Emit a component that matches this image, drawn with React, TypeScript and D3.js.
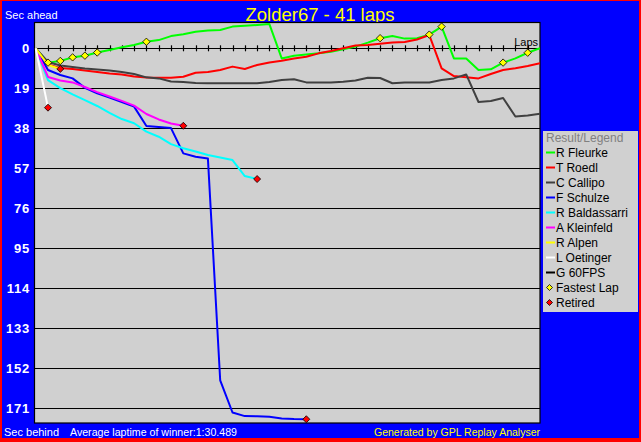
import React from "react";
import * as d3 from "d3";

const W = 641;
const H = 442;

const drivers = ["R Fleurke", "T Roedl", "C Callipo", "F Schulze", "R Baldassarri", "A Kleinfeld", "R Alpen", "L Oetinger", "G 60FPS"];
const colors = ["#00ff00", "#ff0000", "#404040", "#0000ff", "#00ffff", "#ff00ff", "#ffff00", "#ffffff", "#000000"];

// seconds behind (positive = behind) per lap, lap 0..n
const fleurke = [0, 6.8, 6.0, 4.3, 3.5, 2.0, 0.8, -0.5, -1.6, -3.1, -3.9, -5.8, -6.7, -7.9, -8.4, -8.7, -10.3, -10.7, -11.1, -11.5, 4.8, 3.5, 2.9, 2.4, 1.6, 0.5, -0.8, -2.7, -4.8, -5.8, -4.6, -4.8, -6.5, -10.3, 4.8, 4.8, 10.3, 10.0, 6.8, 4.8, 2.1, 0];
const roedl = [0, 7.7, 9.4, 9.8, 10.5, 11.3, 12.0, 12.4, 13.4, 13.9, 14.0, 14.0, 13.5, 11.6, 11.3, 10.3, 8.7, 9.8, 7.9, 6.7, 5.9, 4.8, 4.0, 2.4, 1.3, 0.0, -1.3, -1.6, -2.2, -2.7, -3.0, -4.2, -6.3, 9.5, 13.2, 13.8, 14.3, 12.2, 10.3, 9.5, 8.4, 7.1];
const callipo = [0, 6.5, 8.2, 8.9, 9.6, 10.1, 10.5, 11.3, 12.2, 13.8, 14.3, 15.8, 16.0, 16.5, 16.6, 16.6, 16.6, 16.6, 16.6, 16.0, 15.1, 14.7, 16.2, 16.2, 16.2, 15.9, 15.3, 14.0, 14.1, 16.6, 16.3, 16.3, 16.2, 15.1, 14.3, 12.4, 25.5, 25.0, 23.6, 32.4, 31.9, 31.1];
const schulze = [0, 10.3, 12.7, 14.3, 18.8, 21.4, 23.4, 25.5, 27.7, 36.9, 37.4, 37.9, 49.9, 51.5, 52.3, 157.7, 173.0, 174.7, 174.8, 175.0, 175.8, 176.1, 176.2];
const baldassarri = [0, 15.1, 18.9, 21.9, 24.6, 27.4, 30.7, 33.6, 35.6, 39.6, 42.0, 45.5, 47.5, 49.0, 50.7, 51.9, 53.1, 60.7, 62.1];
const kleinfeld = [0, 13.6, 15.3, 16.2, 18.4, 20.8, 22.9, 25.0, 27.2, 31.2, 33.8, 35.7, 36.8];
const alpen = [0, 7.9, 9.8];
const oetinger = [0, 28.2];
const fps60: number[] = [];

const series = [fleurke, roedl, callipo, schulze, baldassarri, kleinfeld, alpen, oetinger, fps60];
const retiredFlags = [false, false, false, true, true, true, true, true, false];
const fastestLapLaps = [1, 2, 3, 4, 5, 9, 28, 32, 33, 38, 40];
const yTicks = [0, 19, 38, 57, 76, 95, 114, 133, 152, 171];
const totalLaps = 41;

const legendExtra = ["Fastest Lap", "Retired"];

const FONT = "'Liberation Sans', Arial, sans-serif";

function diamond(x: number, y: number, r: number) {
  return `M${x},${y - r}L${x + r},${y}L${x},${y + r}L${x - r},${y}Z`;
}

export default function App() {
  const plot = { left: 34.5, top: 22.5, right: 540, bottom: 423 };
  const x = d3.scaleLinear().domain([0, totalLaps]).range([35.7, 540]);
  const y = d3.scaleLinear().domain([0, 171]).range([48.3, 408.3]);
  const line = d3
    .line<number>()
    .x((_, i) => x(i))
    .y((d) => y(d));

  const lapTicks = d3.range(1, totalLaps);

  return (
    <svg
      width={W}
      height={H}
      style={{ position: "absolute", left: 0, top: 0, display: "block" }}
      fontFamily={FONT}
    >
      <defs>
        <clipPath id="plotClip">
          <rect x={plot.left} y={plot.top} width={plot.right - plot.left} height={plot.bottom - plot.top} />
        </clipPath>
      </defs>
      <rect x={0} y={0} width={W} height={H} fill="#ff0000" />
      <rect x={2} y={1} width={637} height={437} fill="#0000ff" />

      {/* title */}
      <text x={320} y={21} textAnchor="middle" fontSize={19} fill="#ffff00" textLength={149} lengthAdjust="spacingAndGlyphs">
        Zolder67 - 41 laps
      </text>
      <text x={5} y={19} fontSize={11} fill="#ffffff">Sec ahead</text>

      {/* plot area */}
      <rect x={plot.left} y={plot.top} width={plot.right - plot.left} height={plot.bottom - plot.top} fill="#d0d0d0" stroke="#000" strokeWidth={1.2} />

      {/* gridlines */}
      {yTicks.map((t) => (
        <line key={"g" + t} x1={plot.left} x2={plot.right} y1={Math.round(y(t)) + 0.5} y2={Math.round(y(t)) + 0.5} stroke="#000" strokeWidth={1.2} />
      ))}
      {lapTicks.map((l) => (
        <line key={"t" + l} x1={Math.round(x(l)) + 0.5} x2={Math.round(x(l)) + 0.5} y1={y(0) - 3} y2={y(0) + 3} stroke="#000" strokeWidth={1.2} />
      ))}
      <text x={538} y={45.5} fontSize={11} textAnchor="end" fill="#000">Laps</text>

      {/* y tick labels */}
      {yTicks.map((t) => (
        <text key={"l" + t} x={30} y={y(t) + 4.6} textAnchor="end" fontSize={13} fontWeight="bold" fill="#ffffff" letterSpacing={0.8}>
          {t}
        </text>
      ))}

      {/* lines */}
      <g clipPath="url(#plotClip)">
        {series.map((s, i) =>
          s.length > 1 ? (
            <path key={"s" + i} d={line(s) || ""} fill="none" stroke={colors[i]} strokeWidth={2} strokeLinejoin="round" />
          ) : null
        )}
        {fastestLapLaps.map((l) => (
          <path key={"f" + l} d={diamond(x(l), y(fleurke[l]), 3.7)} fill="#ffff00" stroke="#000" strokeWidth={0.8} />
        ))}
        {series.map((s, i) =>
          retiredFlags[i] && s.length > 0 ? (
            <path key={"r" + i} d={diamond(x(s.length - 1), y(s[s.length - 1]), 3.5)} fill="#ff0000" stroke="#000" strokeWidth={0.8} />
          ) : null
        )}
      </g>

      {/* legend */}
      <rect x={543} y={131} width={95} height={181} fill="#d0d0d0" />
      <text x={546} y={141.5} fontSize={12} fill="#808080">Result/Legend</text>
      {drivers.map((d, i) => (
        <g key={"lg" + i}>
          <line x1={546} x2={555} y1={152.5 + i * 15} y2={152.5 + i * 15} stroke={colors[i]} strokeWidth={2} />
          <text x={556} y={156.5 + i * 15} fontSize={12} fill="#000">{d}</text>
        </g>
      ))}
      {legendExtra.map((d, j) => {
        const i = drivers.length + j;
        const cy = 152.5 + i * 15;
        return (
          <g key={"le" + j}>
            <path d={diamond(549.5, cy, 3)} fill={j === 0 ? "#ffff00" : "#ff0000"} stroke="#000" strokeWidth={0.8} />
            <text x={556} y={cy + 4} fontSize={12} fill="#000">{d}</text>
          </g>
        );
      })}

      {/* bottom texts */}
      <text x={4} y={435.5} fontSize={11} fill="#ffffff">Sec behind</text>
      <text x={70} y={435.5} fontSize={11} fill="#ffffff" textLength={167} lengthAdjust="spacingAndGlyphs">
        Average laptime of winner:1:30.489
      </text>
      <text x={374} y={435.5} fontSize={11} fill="#ffff00" textLength={166} lengthAdjust="spacingAndGlyphs">
        Generated by GPL Replay Analyser
      </text>
    </svg>
  );
}
